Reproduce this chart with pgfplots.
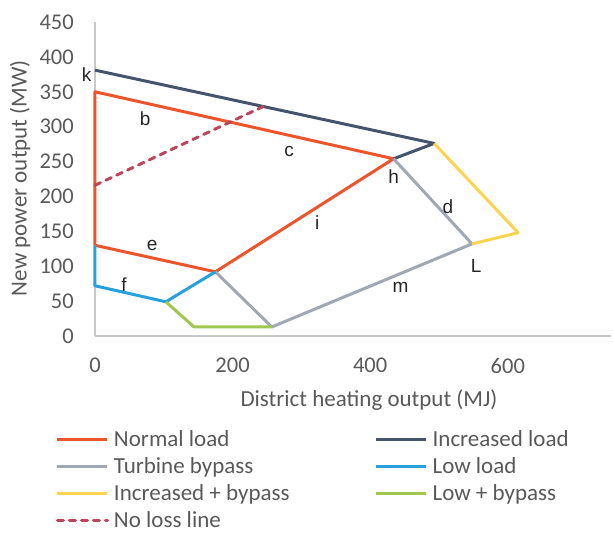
\documentclass[border=0pt]{standalone}
\usepackage{pgfplots}
\pgfplotsset{compat=1.18}
\usepackage{fontspec}
\setmainfont{Carlito}
\newfontfamily\lblfont{Liberation Sans}
\definecolor{cNormal}{RGB}{236,84,44}
\definecolor{cInc}{RGB}{68,84,106}
\definecolor{cTurb}{RGB}{160,168,180}
\definecolor{cLow}{RGB}{40,160,220}
\definecolor{cIncB}{RGB}{250,212,80}
\definecolor{cLowB}{RGB}{160,200,80}
\definecolor{cNoLoss}{RGB}{185,70,90}
\definecolor{txt}{RGB}{89,89,89}
\definecolor{axl}{RGB}{200,200,200}
\begin{document}
\begin{tikzpicture}
\begin{axis}[
  at={(0,0)}, anchor=south west,
  scale only axis, width=516pt, height=314pt,
  xmin=0, xmax=750, ymin=0, ymax=450,
  axis lines=left,
  axis line style={axl, line width=1.3pt, -},
  xtick={0,200,400,600}, ytick={0,50,...,450},
  major tick length=0pt,
  /pgf/number format/assume math mode=true,
  tick label style={font=\fontsize{22.5}{25}\selectfont, text=txt},
  xticklabel style={inner sep=0pt, anchor=north, yshift=-22pt},
  yticklabel style={inner sep=0pt, anchor=east, xshift=-21pt},
  xlabel={District heating output (MJ)},
  ylabel={New power output (MW)},
  label style={font=\fontsize{23}{26}\selectfont, text=txt},
  xlabel style={at={(axis description cs:0.531,0)}, anchor=center, yshift=-64pt},
  ylabel style={at={(axis description cs:0,0.503)}, anchor=center, rotate=0, yshift=75pt},
  clip=false,
  legend columns=2,
  legend image code/.code={\draw[#1] (0pt,7pt) -- (50pt,7pt);},
  legend style={draw=none, fill=none, inner sep=0pt, outer sep=0pt,
    font=\fontsize{23}{26}\selectfont, text=txt,
    at={(axis description cs:0,0)}, anchor=north west, xshift=-39pt, yshift=-95pt,
    row sep=9pt,
    nodes={inner sep=0pt, text height=15pt, text depth=3pt, anchor=base west},
    /tikz/every odd column/.append style={column sep=5pt},
    /tikz/column 2/.style={column sep=85pt}},
  legend cell align=left,
  every axis plot/.append style={line width=3pt, line join=round},
]
\addplot[cNormal] coordinates {(0,130) (0,350) (434,254) (175,92) (0,130)};
\addlegendentry{Normal load}
\addplot[cInc] coordinates {(0,381) (493,276) (434,254)};
\addlegendentry{Increased load}
\addplot[cTurb] coordinates {(175,92) (257,13) (548,132) (434,254)};
\addlegendentry{Turbine bypass}
\addplot[cLow] coordinates {(0,130) (0,72) (103,49) (175,92)};
\addlegendentry{Low load}
\addplot[cIncB] coordinates {(493,276) (615,148) (548,132)};
\addlegendentry{Increased + bypass}
\addplot[cLowB] coordinates {(103,49) (144,13) (257,13)};
\addlegendentry{Low + bypass}
\addplot[cNoLoss, line cap=round, dash pattern=on 6pt off 6pt] coordinates {(0,216) (247,330)};
\addlegendentry{No loss line}
\begin{scope}[every node/.style={font=\lblfont\fontsize{19}{21}\selectfont, text=black!85}]
\node at (axis cs:-12,375) {k};
\node at (axis cs:73,312) {b};
\node at (axis cs:282,265) {c};
\node at (axis cs:323,163) {i};
\node at (axis cs:83,130) {e};
\node at (axis cs:42,73) {f};
\node at (axis cs:434,229) {h};
\node at (axis cs:513,185) {d};
\node at (axis cs:554,100) {L};
\node at (axis cs:444,69) {m};
\end{scope}
\end{axis}
\pgfresetboundingbox
\path[use as bounding box] (-95pt,-199pt) rectangle (518pt,336pt);
\end{tikzpicture}
\end{document}
